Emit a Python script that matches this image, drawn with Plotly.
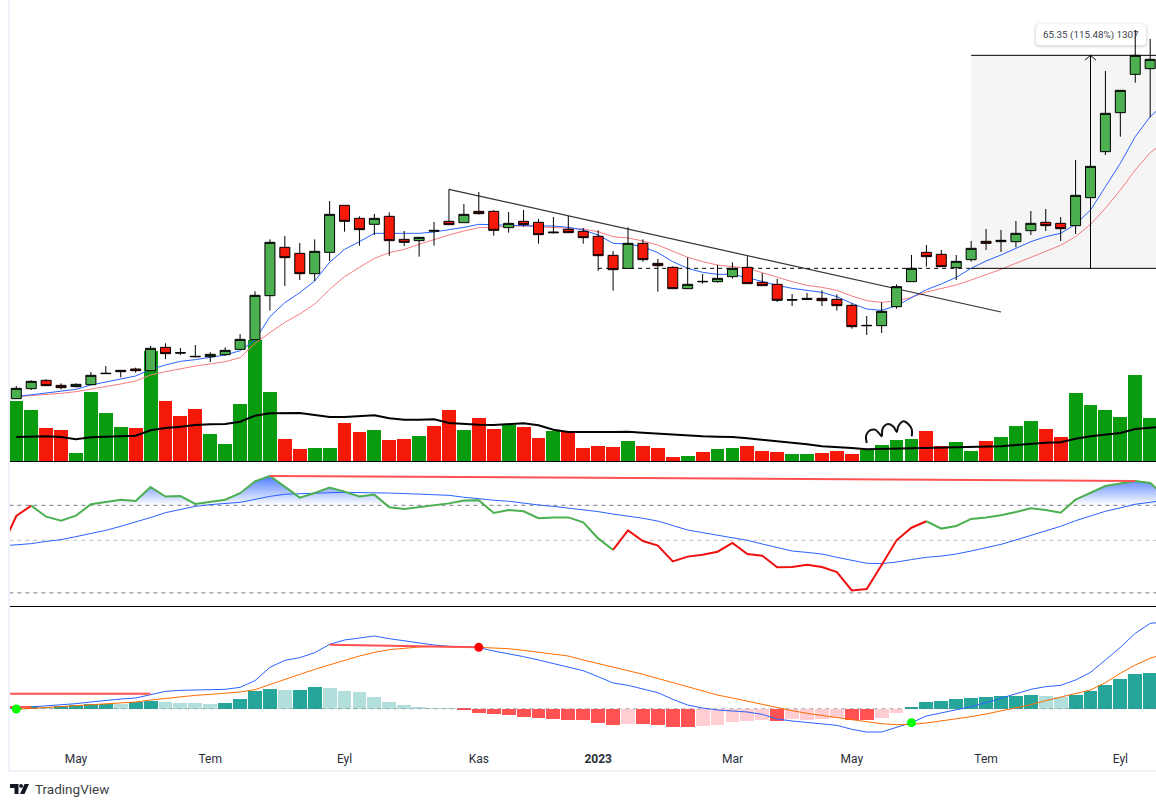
import plotly.graph_objects as go

tick_idx = [4, 13, 22, 31, 39, 48, 56, 65, 74]
tick_labels = ["May", "Tem", "Eyl", "Kas", "<b>2023</b>", "Mar", "May", "Tem", "Eyl"]

opens = [17.5,20.5,23.0,21.5,21.1,21.7,25.0,26.0,26.4,25.9,32.9,31.3,30.2,30.1,30.7,32.3,35.2,48.4,62.9,61.1,55.0,61.4,75.5,71.6,69.8,72.2,65.3,64.9,68.0,70.7,70.3,73.7,73.7,68.8,70.7,70.4,67.5,68.3,67.7,66.2,60.5,56.6,64.1,58.1,56.9,50.5,52.7,52.6,54.1,56.9,52.4,51.8,47.2,47.6,47.6,47.3,45.5,39.5,39.4,45.1,52.6,61.4,60.8,56.8,59.2,64.7,64.6,64.6,67.9,70.4,70.1,69.4,77.8,91.6,103.3,114.8,116.5]
highs = [21.3,23.0,23.3,22.1,22.1,25.5,27.3,26.1,26.8,33.3,34.1,32.7,33.6,31.4,32.9,36.9,49.7,65.3,66.3,64.2,65.3,76.8,75.5,72.2,72.9,73.4,67.8,65.9,70.5,80.3,75.9,79.5,74.1,73.5,74.1,71.4,72.0,72.3,68.7,68.0,61.8,68.9,65.3,59.4,57.2,59.9,54.9,57.6,58.4,60.2,55.2,53.4,48.9,49.2,50.0,48.8,46.1,42.3,46.4,51.8,60.6,63.6,62.1,60.6,64.8,68.4,68.1,70.8,73.8,74.4,72.0,89.1,88.5,115.8,110.0,128.1,125.4]
lows = [17.5,20.1,21.4,20.3,20.9,21.7,25.0,23.9,25.3,25.9,29.4,30.6,29.9,28.5,30.4,32.3,35.2,43.9,51.3,53.1,52.8,58.8,67.6,63.4,66.6,60.4,63.3,60.1,63.4,69.7,70.3,72.7,66.4,67.3,69.1,64.0,67.0,67.3,64.0,55.9,49.9,56.6,58.6,49.6,50.5,50.5,52.0,52.3,53.5,52.0,51.4,46.5,45.3,47.3,45.3,43.9,38.5,36.6,37.2,44.5,52.6,57.1,57.1,53.1,58.6,62.1,61.5,62.9,66.6,67.8,64.8,66.9,68.0,90.6,96.1,112.3,101.9]
closes = [20.6,22.7,21.4,20.8,21.8,24.5,25.1,25.6,25.9,32.6,31.0,31.2,30.1,30.8,32.0,35.3,48.5,64.4,59.8,55.0,61.7,72.8,70.7,68.2,71.6,64.9,64.4,65.9,67.8,69.7,72.8,73.0,68.0,70.1,69.7,66.7,67.3,67.3,65.8,60.4,56.2,64.1,59.2,57.4,50.5,51.8,52.6,53.6,56.6,52.0,51.4,47.0,47.1,47.3,46.9,45.4,39.1,39.4,43.7,51.1,56.6,60.1,57.1,58.7,62.6,64.1,65.0,67.1,70.1,69.4,68.5,78.5,87.2,103.1,110.0,120.5,119.3]

ema_fast = [18.1,18.6,19.1,19.7,20.3,21.6,22.4,23.4,24.3,26.3,27.6,28.7,29.2,29.8,30.6,31.9,35.1,42.1,46.3,49.3,52.8,58.4,62.3,64.6,67.1,67.1,67.1,67.1,67.5,68.1,68.9,69.8,69.6,69.4,69.4,69.3,69.3,68.9,68.1,66.6,64.1,63.9,63.1,61.3,58.6,56.6,55.4,54.8,54.8,53.8,52.6,51.5,50.6,50.1,49.4,48.1,46.1,44.4,44.0,45.4,47.8,50.2,51.9,53.9,56.6,58.8,60.6,62.6,64.6,66.1,67.1,69.8,74.1,81.1,88.1,96.1,102.1,106.1]
ema_slow = [18.1,18.4,18.7,19.1,19.6,20.3,21.1,21.9,22.8,24.6,25.6,26.5,27.3,27.9,28.6,29.8,34.1,37.3,40.4,42.9,45.9,50.3,54.1,56.9,59.6,61.3,62.3,63.8,65.3,66.6,67.8,68.8,68.9,69.3,69.3,69.1,69.0,68.8,68.4,67.6,66.1,65.7,64.8,63.6,61.8,59.9,58.6,57.6,57.1,56.6,55.3,53.9,52.6,51.5,50.9,50.0,48.3,46.9,46.4,46.8,47.9,49.5,50.6,51.6,53.1,54.6,56.3,58.1,59.9,61.6,63.5,66.1,69.8,74.6,80.1,86.1,91.3,94.6]

volume = [1.81,1.54,1.00,.94,.25,2.08,1.45,1.03,1.00,3.31,1.81,1.36,1.57,.82,.52,1.72,3.64,2.08,.67,.37,.40,.40,1.15,.88,.94,.64,.67,.76,1.06,1.54,.94,1.30,.97,1.09,1.03,.70,.91,.88,.40,.46,.43,.61,.46,.40,.13,.16,.28,.37,.40,.46,.31,.28,.22,.22,.25,.31,.22,.34,.49,.64,.67,.91,.46,.58,.31,.61,.73,1.06,1.21,.97,.73,2.05,1.69,1.54,1.33,2.59,1.30]
volume_dir = "GGRRGGGGRGRRRGGGGGRRGGRRGRRGRRGRRGRRGRRRRGRRRGRGGRRRGGRRRGGGGRRGGRGGGRRGGGGGG"
volume_ma = [.72,.74,.74,.72,.65,.71,.72,.74,.76,.92,.99,1.03,1.08,1.10,1.11,1.18,1.36,1.43,1.44,1.44,1.38,1.32,1.32,1.34,1.37,1.28,1.24,1.24,1.25,1.14,1.11,1.09,1.08,1.11,1.13,1.07,.94,.87,.86,.87,.87,.88,.85,.82,.79,.76,.74,.73,.72,.68,.64,.60,.54,.50,.44,.42,.39,.35,.36,.36,.37,.39,.39,.40,.41,.42,.44,.48,.52,.55,.56,.67,.74,.80,.84,.96,1.00,1.04]

rsi = [45.4,63.9,69.8,63.5,61.2,64.1,70.6,71.9,73.2,72.5,80.5,75.0,75.3,70.8,71.9,73.2,76.9,83.7,86.8,80.5,74.4,77.0,80.1,77.8,75.1,76.1,68.9,67.9,68.9,70.2,71.1,72.7,72.9,65.6,67.3,66.6,62.6,63.1,63.1,60.3,51.1,44.5,55.7,49.6,47.0,38.0,40.7,41.8,43.5,48.5,42.2,41.2,34.6,34.8,36.1,34.8,31.9,21.4,22.2,35.9,50.0,57.2,60.9,56.7,58.2,62.2,63.1,64.3,66.2,68.3,67.3,65.8,73.2,77.0,81.0,82.4,83.9,82.8,75.2]
rsi_ma = [46.8,47.3,48.1,49.4,50.4,52.1,53.8,55.7,58.0,60.3,63.0,65.8,67.7,69.4,70.4,71.1,71.7,73.4,75.1,76.3,76.7,77.0,77.2,77.4,77.4,77.2,77.0,76.7,76.5,76.3,75.7,74.6,73.6,72.9,72.3,71.1,70.2,69.4,68.5,67.3,66.4,65.0,63.9,62.6,61.0,58.6,55.9,54.4,52.9,51.5,50.0,47.9,45.8,43.9,43.1,42.2,40.3,38.4,36.9,36.7,37.6,39.0,40.3,41.0,42.2,43.9,45.6,47.7,50.2,52.7,55.3,58.0,61.2,64.1,66.6,68.5,70.6,71.7,73.0]

macd = [.2,.5,.9,1.1,1.5,2.0,2.5,2.9,3.2,4.2,5.2,5.5,5.6,5.7,5.8,6.4,8.4,12.4,14.5,15.3,16.8,19.3,20.6,21.2,21.8,21.0,20.3,19.6,19.1,18.7,18.5,18.3,17.3,16.5,15.6,14.6,13.6,12.6,11.4,9.6,7.7,7.0,5.9,4.8,2.8,1.1,.2,-.4,-.7,-1.0,-1.7,-3.1,-3.7,-4.1,-4.5,-5.0,-6.2,-7.0,-7.0,-5.6,-4.2,-2.2,-1.3,-.5,.6,1.8,3.1,4.4,5.8,6.6,7.0,8.6,10.9,14.6,18.4,22.6,25.6,26.0]
signal = [-.2,.1,.4,.7,.9,1.2,1.5,1.8,2.0,2.6,3.1,3.5,4.0,4.3,4.6,5.0,5.7,7.3,8.9,10.3,11.8,13.2,14.6,15.8,16.9,17.7,18.1,18.5,18.6,18.6,18.5,18.4,18.2,18.0,17.5,16.9,16.4,15.8,14.6,13.6,12.6,11.4,10.3,9.1,7.8,6.5,5.3,4.1,3.2,2.2,1.3,.3,-.6,-1.4,-2.1,-2.7,-3.3,-3.9,-4.5,-4.8,-4.7,-4.3,-3.7,-3.2,-2.4,-1.6,-.7,.1,1.2,2.4,3.4,4.4,5.6,7.8,10.6,13.1,15.1,16.6]
hist = [.3,.8,.6,.7,1.1,1.3,1.4,1.5,2.1,2.3,2.0,1.7,1.7,1.4,1.7,2.9,5.3,5.9,5.6,5.6,6.5,6.2,5.3,5.0,3.5,2.0,1.1,.5,.2,.2,-.4,-1.3,-1.6,-1.9,-2.5,-2.8,-3.1,-3.4,-3.4,-4.3,-4.9,-4.6,-4.6,-4.9,-5.5,-5.5,-5.2,-4.9,-4.0,-3.7,-3.4,-3.7,-3.1,-3.4,-3.1,-2.8,-3.4,-3.4,-2.8,-1.3,.5,2.0,2.3,2.9,3.2,3.5,3.8,3.8,4.1,3.8,3.5,4.1,5.3,7.1,8.9,10.4,10.7]
hist_strong = "DDLDDDDLDDLLLLDDDDLDDLLLLLLLLLDDDDDDDDDDDLDDDDLLLLLDLLLLDDLLDDDDDDDDDLLDDDDDD"

sketch_x = [57.0,56.95,57.04,57.22,57.56,57.85,58.0,58.05,58.2,58.45,58.8,59.01,59.12,59.46,59.8,60.02,60.02]
sketch_v = [.54,.74,.84,.92,.94,.82,.74,.95,1.06,1.11,1.03,.87,1.04,1.19,1.10,.95,.74]

GREEN_BAR, RED_BAR = "#089C0E", "#F5190A"
BODY_UP = "#4CAF50"
TEAL, TEAL_L, RED_H, RED_L = "#26A69A", "#B2DFDB", "#FF5252", "#FFCDD2"
BLUE, ORANGE, SALMON, DIV = "#2962FF", "#FF6D00", "#F77C80", "#FF5252"
GREY = "#787B86"

PLOT_L, PLOT_R, PLOT_T, PLOT_B = 10, 1156, 0, 745
def px(x): return (x - PLOT_L) / (PLOT_R - PLOT_L)
def py(y): return (PLOT_B - y) / (PLOT_B - PLOT_T)

n = len(closes)
assert all(len(a) == n for a in (opens, highs, lows, volume, hist))
assert len(volume_dir) >= n and len(hist_strong) >= n
xs = list(range(n))
xl = list(range(len(ema_fast)))
xr = list(range(-1, len(rsi) - 1))

fig = go.Figure()
def line(x, y, axis, color, width=1, dash=None, shape=None):
    fig.add_trace(go.Scatter(x=x, y=y, xaxis="x", yaxis=axis, mode="lines", hoverinfo="skip",
                             line=dict(color=color, width=width, dash=dash, shape=shape or "linear")))

# ---- volume pane
fig.add_trace(go.Bar(x=xs, y=volume, yaxis="y", width=0.93, hoverinfo="skip",
                     marker=dict(color=[GREEN_BAR if d == "G" else RED_BAR for d in volume_dir[:n]], line_width=0)))
line(xl, volume_ma, "y", "#000000", 2)
line(sketch_x, sketch_v, "y", "#111111", 2, shape="spline")

# ---- overlays on price
MEAS_LO, MEAS_HI = 56.6, 120.5
line(xl, ema_slow, "y2", SALMON)
line(xl, ema_fast, "y2", BLUE)
line([39, 64], [MEAS_LO, MEAS_LO], "y2", "#000000", 1, dash="4px,4px")
line([64, 80], [MEAS_LO, MEAS_LO], "y2", "#000000", 1)
line([64, 80], [MEAS_HI, MEAS_HI], "y2", "#000000", 1)
line([72, 72], [MEAS_LO, MEAS_HI], "y2", "#000000", 1)
line([71.64, 72, 72.36], [MEAS_HI - 1.4, MEAS_HI, MEAS_HI - 1.4], "y2", "#000000", 1)
line([29, 66], [80.3, 43.5], "y2", "#30333A", 1.2)

# ---- candles
fig.add_trace(go.Candlestick(x=xs, open=opens, high=highs, low=lows, close=closes, yaxis="y3",
                             whiskerwidth=0, hoverinfo="skip",
                             increasing=dict(fillcolor=BODY_UP, line=dict(color="#000000", width=1)),
                             decreasing=dict(fillcolor=RED_BAR, line=dict(color="#000000", width=1))))

# ---- RSI pane
cross_x, cross_y = [], []
for i in range(len(rsi)):
    if i and (rsi[i-1] - 70) * (rsi[i] - 70) < 0:
        t = (70 - rsi[i-1]) / (rsi[i] - rsi[i-1])
        cross_x.append(xr[i-1] + t)
        cross_y.append(70)
    cross_x.append(xr[i])
    cross_y.append(max(rsi[i], 70))
fig.add_trace(go.Scatter(x=cross_x + [cross_x[-1], cross_x[0]], y=cross_y + [70, 70], yaxis="y4",
                         mode="lines", fill="toself", line=dict(width=0), hoverinfo="skip",
                         fillgradient=dict(type="vertical", start=70, stop=87,
                                           colorscale=[[0, "rgba(41,98,255,0)"], [1, "rgba(41,98,255,0.85)"]])))
for lvl, c in ((70, GREY), (50, "#BDBEC3"), (20, GREY)):
    line([-1, 80], [lvl, lvl], "y4", c, 1, dash="4px,4px")
line(xr, rsi_ma, "y4", BLUE)
segments = [(-1, 1, "#F00E0E"), (1, 40, BODY_UP), (40, 61, "#F00E0E"), (61, 77, BODY_UP)]
for a, b, c in segments:
    line(xr[a+1:b+2], rsi[a+1:b+2], "y4", c, 2)
line([17, 75], [86.8, 83.9], "y4", DIV, 2)

# ---- MACD pane
hcol = []
for v, s in zip(hist, hist_strong):
    hcol.append((TEAL if s == "D" else TEAL_L) if v >= 0 else (RED_H if s == "D" else RED_L))
fig.add_trace(go.Bar(x=xs, y=hist, yaxis="y5", width=0.93, hoverinfo="skip", marker=dict(color=hcol, line_width=0)))
line([-1, 80], [0, 0], "y5", "rgba(120,123,134,0.6)", 1, dash="4px,4px")
line(xl, macd, "y5", BLUE)
line(xl, signal, "y5", ORANGE)
line([-1, 9], [4.5, 4.5], "y5", DIV, 2)
line([-1, 1], [.5, .5], "y5", DIV, 2)
line([21, 31], [19.2, 18.4], "y5", DIV, 2)
fig.add_trace(go.Scatter(x=[31, 0, 60], y=[18.4, -.1, -4.2], yaxis="y5", mode="markers", hoverinfo="skip",
                         marker=dict(size=9, color=["#FF0000", "#00FF00", "#00FF00"])))

# ---- shapes
shapes = [
    dict(type="rect", xref="x", yref="y2", x0=64, x1=80, y0=MEAS_LO, y1=MEAS_HI,
         fillcolor="#F5F5F5", line_width=0, layer="below"),
]
def rrect(x0, x1, y0, y1, r):
    X = lambda v: px(v)
    Y = lambda v: py(v)
    return (f"M{X(x0+r)},{Y(y0)} L{X(x1-r)},{Y(y0)} Q{X(x1)},{Y(y0)} {X(x1)},{Y(y0+r)} "
            f"L{X(x1)},{Y(y1-r)} Q{X(x1)},{Y(y1)} {X(x1-r)},{Y(y1)} L{X(x0+r)},{Y(y1)} "
            f"Q{X(x0)},{Y(y1)} {X(x0)},{Y(y1-r)} L{X(x0)},{Y(y0+r)} Q{X(x0)},{Y(y0)} {X(x0+r)},{Y(y0)} Z")
for g, a in ((3, .02), (2, .03), (1, .05)):
    shapes.append(dict(type="path", xref="paper", yref="paper", path=rrect(1036 - g, 1146 + g, 24 - g + 1, 45 + g + 1, 4 + g),
                       fillcolor=f"rgba(0,0,0,{a})", line_width=0, layer="below"))
shapes.append(dict(type="path", xref="paper", yref="paper", path=rrect(1036, 1146, 24, 45, 4),
                   fillcolor="#FFFFFF", line_width=0, layer="below"))
for y in (461.5, 606.5):
    shapes.append(dict(type="line", xref="paper", yref="paper", x0=px(10), x1=px(1156), y0=py(y), y1=py(y),
                       line=dict(color="#000000", width=1), layer="above"))
BORDER = "#F0F3FA"
shapes.append(dict(type="line", xref="paper", yref="paper", x0=px(9), x1=px(9), y0=py(0), y1=py(771),
                   line=dict(color=BORDER, width=2), layer="above"))
shapes.append(dict(type="line", xref="paper", yref="paper", x0=px(8), x1=px(1156), y0=py(771), y1=py(771),
                   line=dict(color=BORDER, width=2), layer="above"))
# logo
def poly(points):
    return "M" + " L".join(f"{px(a)},{py(b)}" for a, b in points) + " Z"
shapes.append(dict(type="path", xref="paper", yref="paper", line_width=0, fillcolor="#131722",
                   path=poly([(10, 784), (18.5, 784), (18.5, 794), (14.5, 794), (14.5, 788), (10, 788)])))
shapes.append(dict(type="path", xref="paper", yref="paper", line_width=0, fillcolor="#131722",
                   path=poly([(24.5, 784), (29, 784), (24.5, 794), (20, 794)])))
shapes.append(dict(type="circle", xref="paper", yref="paper", line_width=0, fillcolor="#131722",
                   x0=px(19.2), x1=px(23), y0=py(787.8), y1=py(784)))

annotations = [
    dict(xref="paper", yref="paper", x=px(1091), y=py(35), text="65.35 (115.48%) 1307", showarrow=False,
         xanchor="center", yanchor="middle", font=dict(family="Roboto", size=9.8, color="#3A3E4A")),
    dict(xref="paper", yref="paper", x=px(33), y=py(789), xanchor="left", yanchor="middle", text="TradingView",
         showarrow=False, font=dict(family="Roboto", size=13.5, color="#3C3F48")),
]

hidden = dict(visible=False, showgrid=False, zeroline=False, fixedrange=True)
PRICE_RANGE = [-1.2, 137.1]
fig.update_layout(
    width=1156, height=807, autosize=False, showlegend=False,
    margin=dict(l=PLOT_L, r=1156 - PLOT_R, t=PLOT_T, b=807 - PLOT_B, pad=0),
    paper_bgcolor="#FFFFFF", plot_bgcolor="#FFFFFF", barmode="overlay", bargap=0,
    boxmode="overlay", boxgap=0.33, boxgroupgap=0,
    shapes=shapes, annotations=annotations,
    xaxis=dict(range=[-0.422, 76.39], anchor="y5", showgrid=False, zeroline=False, showline=False,
               ticks="", tickmode="array", tickvals=tick_idx, ticktext=tick_labels, fixedrange=True,
               ticklabelstandoff=5,
               tickfont=dict(family="Roboto", size=12, color="#2A2E39"), rangeslider=dict(visible=False)),
    yaxis=dict(domain=[py(461), 1], range=[0, 13.83], **hidden),
    yaxis2=dict(overlaying="y", range=PRICE_RANGE, **hidden),
    yaxis3=dict(overlaying="y", range=PRICE_RANGE, **hidden),
    yaxis4=dict(domain=[py(606), py(461)], range=[12.5, 95.3], **hidden),
    yaxis5=dict(domain=[0, py(606)], range=[-10.9, 30.8], **hidden),
)
fig.write_html("out.html", config=dict(displayModeBar=False),
               post_script="document.body.style.margin='0';document.body.style.overflow='hidden';")
